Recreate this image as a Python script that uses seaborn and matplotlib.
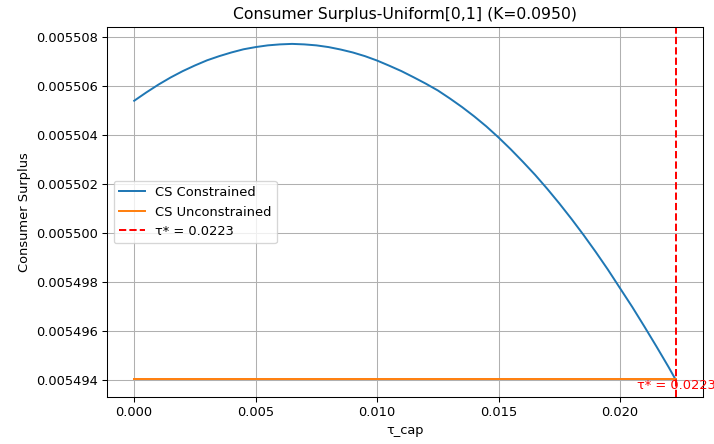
import matplotlib
matplotlib.use("Agg")
import matplotlib.pyplot as plt
import seaborn as sns
import pandas as pd

# Tax cap grid and consumer surplus under the cap constraint
tau_cap = [0.0000, 0.0005, 0.0010, 0.0015, 0.0020, 0.0025, 0.0030, 0.0035,
           0.0040, 0.0045, 0.0050, 0.0055, 0.0060, 0.0065, 0.0070, 0.0075,
           0.0080, 0.0085, 0.0090, 0.0095, 0.0100, 0.0105, 0.0110, 0.0115,
           0.0120, 0.0125, 0.0130, 0.0135, 0.0140, 0.0145, 0.0150, 0.0155,
           0.0160, 0.0165, 0.0170, 0.0175, 0.0180, 0.0185, 0.0190, 0.0195,
           0.0200, 0.0205, 0.0210, 0.0215, 0.0220, 0.0223]
cs_constrained = [0.00550540, 0.00550574, 0.00550606, 0.00550635, 0.00550661,
                  0.00550684, 0.00550705, 0.00550722, 0.00550737, 0.00550750,
                  0.00550759, 0.00550766, 0.00550770, 0.00550772, 0.00550770,
                  0.00550766, 0.00550759, 0.00550749, 0.00550737, 0.00550722,
                  0.00550704, 0.00550683, 0.00550661, 0.00550636, 0.00550610,
                  0.00550582, 0.00550549, 0.00550514, 0.00550476, 0.00550435,
                  0.00550390, 0.00550342, 0.00550291, 0.00550238, 0.00550181,
                  0.00550121, 0.00550058, 0.00549992, 0.00549923, 0.00549851,
                  0.00549775, 0.00549699, 0.00549619, 0.00549537, 0.00549453,
                  0.00549400]

# Unconstrained consumer surplus (flat across the cap range)
tau_unconstrained = [0.000, 0.0223]
cs_unconstrained = [0.00549404, 0.00549404]

tau_star = 0.0223
k_value = 0.0950

constrained = pd.DataFrame({"tau": tau_cap, "cs": cs_constrained})
unconstrained = pd.DataFrame({"tau": tau_unconstrained, "cs": cs_unconstrained})

dpi = 94
fig = plt.figure(figsize=(714 / dpi, 444 / dpi), dpi=dpi)
ax = fig.add_axes([0.150, 0.106, 0.8346, 0.833])

sns.lineplot(data=constrained, x="tau", y="cs", ax=ax, color="tab:blue",
             label="CS Constrained")
sns.lineplot(data=unconstrained, x="tau", y="cs", ax=ax, color="tab:orange",
             label="CS Unconstrained")
ax.axvline(tau_star, color="red", linestyle="--", label=f"τ* = {tau_star:.4f}")
ax.text(tau_star, min(cs_unconstrained), f"τ* = {tau_star:.4f}", color="red",
        ha="center", va="top", fontsize=10)

ax.ticklabel_format(axis="y", useOffset=False, style="plain")
ax.set_title(f"Consumer Surplus-Uniform[0,1] (K={k_value:.4f})", fontsize=12)
ax.set_xlabel("τ_cap")
ax.set_ylabel("Consumer Surplus")
ax.grid(True)
ax.legend(loc="center left")

fig.savefig("out.png", dpi=dpi)
